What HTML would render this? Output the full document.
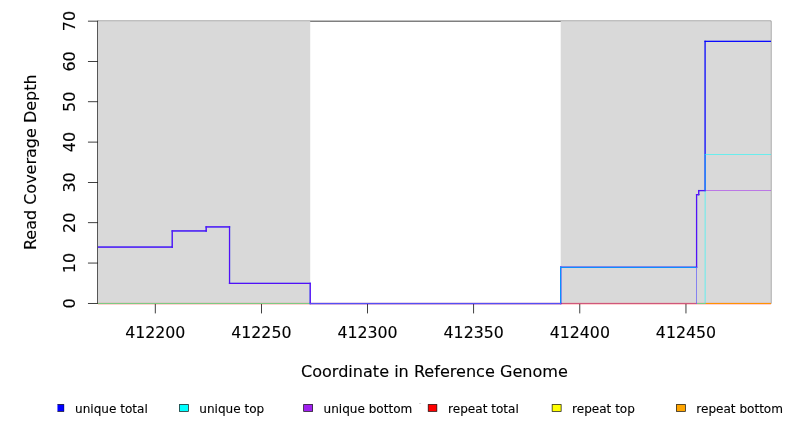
<!DOCTYPE html>
<html lang="en">
<head>
<meta charset="utf-8">
<title>Read Coverage Depth</title>
<style>
html,body{margin:0;padding:0;background:#ffffff;}
body{width:792px;height:432px;overflow:hidden;}
svg{display:block;}
text{font-family:"DejaVu Sans","Liberation Sans",sans-serif;fill:#000000;stroke:#000000;stroke-width:0.12px;}
.ax{font-size:16px;}
.lg{font-size:12.05px;}
</style>
</head>
<body>
<svg width="792" height="432" viewBox="0 0 792 432">
<rect x="0" y="0" width="792" height="432" fill="#ffffff"/>
<g fill="#000000">
<rect x="97.55" y="20.75" width="673.71" height="0.75"/><rect x="97.55" y="302.99" width="673.71" height="0.75"/><rect x="97.55" y="21.5" width="0.75" height="281.49"/><rect x="770.5" y="21.5" width="0.75" height="281.49"/>
<rect x="97.55" y="20.75" width="0.75" height="282.99"/><rect x="87.95" y="302.99" width="9.97" height="0.75"/><rect x="87.95" y="262.67" width="9.97" height="0.75"/><rect x="87.95" y="222.35" width="9.97" height="0.75"/><rect x="87.95" y="182.03" width="9.97" height="0.75"/><rect x="87.95" y="141.71" width="9.97" height="0.75"/><rect x="87.95" y="101.39" width="9.97" height="0.75"/><rect x="87.95" y="61.06" width="9.97" height="0.75"/><rect x="87.95" y="20.75" width="9.97" height="0.75"/>
<rect x="154.86" y="302.99" width="531.48" height="0.75"/><rect x="154.86" y="303.36" width="0.75" height="10.05"/><rect x="261.01" y="303.36" width="0.75" height="10.05"/><rect x="367.15" y="303.36" width="0.75" height="10.05"/><rect x="473.3" y="303.36" width="0.75" height="10.05"/><rect x="579.44" y="303.36" width="0.75" height="10.05"/><rect x="685.59" y="303.36" width="0.75" height="10.05"/>
</g>
<rect x="97.92" y="21.12" width="212.29" height="282.24" fill="#d9d9d9"/>
<rect x="560.71" y="21.12" width="210.17" height="282.24" fill="#d9d9d9"/>
<clipPath id="pc"><rect x="97" y="21" width="674" height="284"/></clipPath>
<g clip-path="url(#pc)">
<g fill="#ff0000"><rect x="97.92" y="302.93" width="673.59" height="1.25"/></g>
<g fill="#ffff00"><rect x="97.92" y="303.29" width="673.22" height="0.52"/></g>
<g fill="#ffa500"><rect x="97.92" y="303.29" width="673.22" height="0.52"/></g>
<g fill="#0000ff"><rect x="97.92" y="246.45" width="74.93" height="1.25"/><rect x="171.6" y="230.31" width="1.25" height="17.39"/><rect x="171.6" y="230.31" width="35.22" height="1.25"/><rect x="205.56" y="226.28" width="1.25" height="5.28"/><rect x="205.56" y="226.28" width="24.6" height="1.25"/><rect x="228.91" y="226.28" width="1.25" height="57.73"/><rect x="228.91" y="282.75" width="81.92" height="1.25"/><rect x="309.59" y="282.75" width="1.25" height="21.42"/><rect x="309.59" y="302.93" width="251.75" height="1.25"/><rect x="560.09" y="266.62" width="1.25" height="37.56"/><rect x="560.09" y="266.62" width="137.12" height="1.25"/><rect x="695.95" y="194" width="1.25" height="73.87"/><rect x="695.95" y="194" width="3.37" height="1.25"/><rect x="698.08" y="189.97" width="1.25" height="5.28"/><rect x="698.08" y="189.97" width="7.62" height="1.25"/><rect x="704.45" y="40.7" width="1.25" height="150.52"/><rect x="704.45" y="40.7" width="67.06" height="1.25"/></g>
<g fill="#00ffff"><rect x="97.92" y="303.29" width="463.06" height="0.52"/><rect x="560.45" y="266.98" width="0.53" height="36.83"/><rect x="560.45" y="266.98" width="136.39" height="0.52"/><rect x="696.32" y="266.98" width="0.53" height="36.83"/><rect x="696.32" y="303.29" width="9.02" height="0.52"/><rect x="704.81" y="154.02" width="0.53" height="149.79"/><rect x="704.81" y="154.02" width="66.33" height="0.52"/></g>
<g fill="#a020f0"><rect x="97.92" y="246.81" width="74.56" height="0.52"/><rect x="171.96" y="230.67" width="0.52" height="16.66"/><rect x="171.96" y="230.67" width="34.49" height="0.52"/><rect x="205.93" y="226.64" width="0.52" height="4.56"/><rect x="205.93" y="226.64" width="23.88" height="0.52"/><rect x="229.28" y="226.64" width="0.52" height="57"/><rect x="229.28" y="283.12" width="81.2" height="0.52"/><rect x="309.95" y="283.12" width="0.52" height="20.7"/><rect x="309.95" y="303.29" width="386.89" height="0.52"/><rect x="696.32" y="194.36" width="0.53" height="109.45"/><rect x="696.32" y="194.36" width="2.65" height="0.52"/><rect x="698.44" y="190.33" width="0.53" height="4.56"/><rect x="698.44" y="190.33" width="72.7" height="0.52"/></g>
</g>
<g class="ax" text-anchor="middle">
<text x="155.24" y="337.92" textLength="60.2" lengthAdjust="spacingAndGlyphs">412200</text>
<text x="261.38" y="337.92" textLength="60.2" lengthAdjust="spacingAndGlyphs">412250</text>
<text x="367.53" y="337.92" textLength="60.2" lengthAdjust="spacingAndGlyphs">412300</text>
<text x="473.67" y="337.92" textLength="60.2" lengthAdjust="spacingAndGlyphs">412350</text>
<text x="579.82" y="337.92" textLength="60.2" lengthAdjust="spacingAndGlyphs">412400</text>
<text x="685.96" y="337.92" textLength="60.2" lengthAdjust="spacingAndGlyphs">412450</text>
<text transform="translate(74.88 303.36) rotate(-90)">0</text>
<text transform="translate(74.88 263.04) rotate(-90)">10</text>
<text transform="translate(74.88 222.72) rotate(-90)">20</text>
<text transform="translate(74.88 182.4) rotate(-90)">30</text>
<text transform="translate(74.88 142.08) rotate(-90)">40</text>
<text transform="translate(74.88 101.76) rotate(-90)">50</text>
<text transform="translate(74.88 61.44) rotate(-90)">60</text>
<text transform="translate(74.88 21.12) rotate(-90)">70</text>
<text x="434.4" y="377.17" textLength="266.9" lengthAdjust="spacingAndGlyphs">Coordinate in Reference Genome</text>
<text transform="translate(36.48 162.24) rotate(-90)">Read Coverage Depth</text>
</g>
<clipPath id="lc"><rect x="57.45" y="404" width="6.85" height="20"/></clipPath>
<g class="lg">
<g clip-path="url(#lc)"><rect x="55.12" y="404.4" width="9" height="7" fill="#0000ff"/><g fill="#000000"><rect x="54.8" y="404.07" width="9.65" height="0.65"/><rect x="54.8" y="411.07" width="9.65" height="0.65"/><rect x="54.8" y="404.72" width="0.65" height="6.35"/><rect x="63.8" y="404.72" width="0.65" height="6.35"/></g></g>
<text x="75.05" y="412.6">unique total</text>
<g><rect x="179.38" y="404.4" width="9" height="7" fill="#00ffff"/><g fill="#000000"><rect x="179.05" y="404.07" width="9.65" height="0.65"/><rect x="179.05" y="411.07" width="9.65" height="0.65"/><rect x="179.05" y="404.72" width="0.65" height="6.35"/><rect x="188.05" y="404.72" width="0.65" height="6.35"/></g></g>
<text x="199.3" y="412.6">unique top</text>
<g><rect x="303.62" y="404.4" width="9" height="7" fill="#a020f0"/><g fill="#000000"><rect x="303.3" y="404.07" width="9.65" height="0.65"/><rect x="303.3" y="411.07" width="9.65" height="0.65"/><rect x="303.3" y="404.72" width="0.65" height="6.35"/><rect x="312.3" y="404.72" width="0.65" height="6.35"/></g></g>
<text x="323.55" y="412.6">unique bottom</text>
<g><rect x="428.18" y="404.4" width="8.7" height="7" fill="#ff0000"/><g fill="#000000"><rect x="427.85" y="404.07" width="9.35" height="0.65"/><rect x="427.85" y="411.07" width="9.35" height="0.65"/><rect x="427.85" y="404.72" width="0.65" height="6.35"/><rect x="436.55" y="404.72" width="0.65" height="6.35"/></g></g>
<text x="448.1" y="412.6">repeat total</text>
<g><rect x="552.12" y="404.4" width="9" height="7" fill="#ffff00"/><g fill="#000000"><rect x="551.8" y="404.07" width="9.65" height="0.65"/><rect x="551.8" y="411.07" width="9.65" height="0.65"/><rect x="551.8" y="404.72" width="0.65" height="6.35"/><rect x="560.8" y="404.72" width="0.65" height="6.35"/></g></g>
<text x="572.05" y="412.6">repeat top</text>
<g><rect x="676.38" y="404.4" width="9" height="7" fill="#ffa500"/><g fill="#000000"><rect x="676.05" y="404.07" width="9.65" height="0.65"/><rect x="676.05" y="411.07" width="9.65" height="0.65"/><rect x="676.05" y="404.72" width="0.65" height="6.35"/><rect x="685.05" y="404.72" width="0.65" height="6.35"/></g></g>
<text x="696.3" y="412.6">repeat bottom</text>
<rect x="419.1" y="403" width="2" height="0.8" fill="#000000" fill-opacity="0.2"/>
</g>
</svg>
</body>
</html>
